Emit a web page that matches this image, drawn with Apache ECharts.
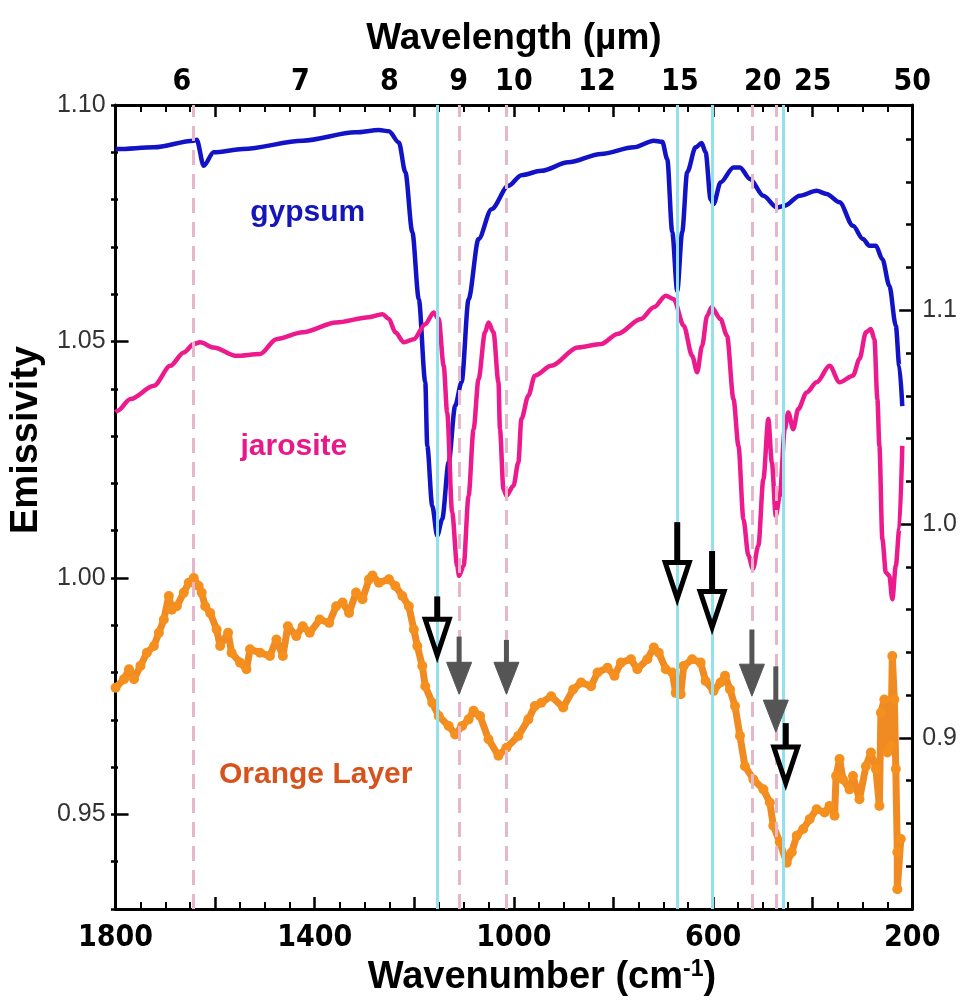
<!DOCTYPE html>
<html><head><meta charset="utf-8">
<script src="https://cdn.jsdelivr.net/npm/echarts@6/dist/echarts.min.js"></script>
<style>html,body{margin:0;padding:0;background:#fff}#c{width:960px;height:1003px}</style>
</head><body><div id="c"></div>
<script>
// ---------------- DATA ----------------
// Gypsum library spectrum (right emissivity axis): [wavenumber cm-1, emissivity]
const gypsum = [[1800,1.1754],[1796,1.1754],[1723,1.1762],[1643,1.1793],[1637,1.1797],[1623,1.1676],[1603,1.1739],[1544,1.1754],[1424,1.1793],[1318,1.1832],[1271,1.1843],[1251,1.1837],[1231,1.1785],[1218,1.1646],[1204,1.1366],[1191,1.1052],[1178,1.0664],[1174,1.0366],[1164,1.0086],[1154,0.9945],[1144,1.0023],[1131,1.0289],[1118,1.0553],[1105,1.0664],[1091,1.1052],[1071,1.1333],[1045,1.1473],[1011,1.1582],[985,1.1632],[945,1.1652],[891,1.1692],[825,1.1731],[759,1.1762],[719,1.1793],[702,1.1788],[692,1.1707],[682,1.1366],[672,1.1091],[662,1.1366],[652,1.1646],[635,1.1762],[623,1.1782],[615,1.1739],[605,1.1520],[599,1.1497],[585,1.1598],[559,1.1668],[546,1.1668],[526,1.1614],[499,1.1536],[472,1.1481],[456,1.1489],[426,1.1536],[392,1.1559],[372,1.1544],[346,1.1505],[319,1.1395],[299,1.1333],[286,1.1302],[273,1.1302],[260,1.1239],[246,1.1115],[233,1.0928],[226,1.0740],[220,1.0552]];
// Jarosite library spectrum (right emissivity axis)
const jarosite = [[1800,1.0524],[1796,1.0530],[1770,1.0585],[1723,1.0647],[1690,1.0740],[1663,1.0803],[1643,1.0842],[1630,1.0850],[1603,1.0826],[1557,1.0787],[1510,1.0795],[1477,1.0865],[1424,1.0897],[1357,1.0943],[1291,1.0967],[1264,1.0982],[1251,1.0959],[1238,1.0897],[1221,1.0850],[1201,1.0865],[1178,1.0935],[1161,1.0990],[1151,1.0959],[1141,1.0740],[1134,1.0522],[1124,1.0055],[1114,0.9805],[1110,0.9758],[1101,0.9805],[1091,1.0132],[1081,1.0444],[1071,1.0678],[1058,1.0897],[1051,1.0943],[1041,1.0897],[1031,1.0663],[1028,1.0444],[1021,1.0164],[1015,1.0132],[1001,1.0179],[991,1.0289],[985,1.0491],[971,1.0600],[958,1.0694],[925,1.0740],[872,1.0826],[825,1.0842],[792,1.0889],[745,1.0959],[719,1.1014],[695,1.1068],[679,1.1052],[659,1.0928],[642,1.0787],[632,1.0710],[622,1.0834],[612,1.0974],[603,1.1014],[585,1.0959],[572,1.0881],[559,1.0585],[549,1.0366],[539,1.0023],[529,0.9852],[520,0.9790],[509,0.9899],[499,1.0210],[489,1.0491],[482,1.0289],[474,1.0039],[466,1.0132],[456,1.0444],[449,1.0522],[439,1.0444],[429,1.0538],[412,1.0616],[392,1.0663],[366,1.0740],[346,1.0663],[319,1.0694],[306,1.0772],[293,1.0897],[283,1.0912],[276,1.0865],[270,1.0585],[266,1.0366],[260,0.9930],[253,0.9774],[246,0.9758],[240,0.9649],[233,0.9805],[226,0.9977],[220,1.0366]];
// Orange Layer measured spectrum (left emissivity axis)
const orangeLayer = [[1800,0.9768],[1783,0.9786],[1773,0.9807],[1763,0.9786],[1750,0.9814],[1737,0.9842],[1723,0.9856],[1713,0.9884],[1703,0.9912],[1693,0.9962],[1687,0.9933],[1677,0.9940],[1663,0.9969],[1653,0.9990],[1643,1.0000],[1633,0.9983],[1627,0.9969],[1620,0.9940],[1610,0.9926],[1597,0.9891],[1590,0.9856],[1574,0.9884],[1567,0.9842],[1550,0.9821],[1537,0.9807],[1530,0.9849],[1510,0.9842],[1490,0.9835],[1477,0.9870],[1464,0.9835],[1454,0.9898],[1437,0.9877],[1424,0.9898],[1410,0.9884],[1390,0.9912],[1371,0.9905],[1357,0.9940],[1344,0.9948],[1331,0.9926],[1317,0.9969],[1304,0.9955],[1291,0.9997],[1284,1.0005],[1271,0.9990],[1251,0.9997],[1238,0.9983],[1224,0.9962],[1211,0.9940],[1201,0.9891],[1194,0.9856],[1184,0.9814],[1178,0.9771],[1164,0.9736],[1151,0.9708],[1131,0.9687],[1118,0.9669],[1104,0.9687],[1091,0.9701],[1081,0.9719],[1068,0.9708],[1051,0.9659],[1031,0.9624],[1015,0.9641],[991,0.9666],[971,0.9701],[958,0.9729],[945,0.9736],[925,0.9750],[901,0.9726],[881,0.9764],[865,0.9779],[845,0.9771],[832,0.9800],[812,0.9810],[798,0.9793],[785,0.9821],[765,0.9828],[752,0.9807],[732,0.9828],[719,0.9853],[709,0.9842],[695,0.9807],[682,0.9800],[675,0.9757],[665,0.9754],[659,0.9814],[642,0.9828],[625,0.9821],[615,0.9782],[599,0.9761],[585,0.9779],[576,0.9793],[566,0.9764],[556,0.9729],[546,0.9666],[536,0.9602],[519,0.9574],[499,0.9553],[486,0.9525],[479,0.9476],[466,0.9441],[452,0.9398],[442,0.9420],[432,0.9455],[419,0.9469],[406,0.9490],[392,0.9511],[376,0.9504],[366,0.9518],[356,0.9497],[353,0.9581],[346,0.9617],[339,0.9574],[326,0.9553],[319,0.9581],[306,0.9532],[293,0.9602],[283,0.9631],[273,0.9596],[266,0.9518],[263,0.9715],[256,0.9743],[250,0.9631],[243,0.9645],[240,0.9835],[236,0.9743],[233,0.9596],[230,0.9420],[230,0.9342],[223,0.9448]];
// Reference band positions (cm-1)
const pinkBands = [1643, 1110, 1015, 522, 474];
const cyanBands = [1154, 672, 602, 459];
// Arrows: [wavenumber, start emissivity, tip emissivity] (left axis)
const blackArrows = [[1154,0.9961,0.9828],[672,1.0118,0.9948],[602,1.0057,0.9887],[454,0.9693,0.9558]];
const grayArrows = [[1110,0.9876,0.9754],[1015,0.9869,0.9754],[522,0.9891,0.9750],[474,0.9813,0.9674]];
// Tick labels
const wavelengthTicks = [6, 7, 8, 9, 10, 12, 15, 20, 25, 50];
const leftTicks = [0.95, 1.00, 1.05, 1.10];
const rightTicks = [0.9, 1.0, 1.1];
// Curve labels and their anchor (wavenumber, left-axis emissivity)
const curveNames = ['gypsum', 'jarosite', 'Orange Layer'];
const curveNameAt = [[1414, 1.0772], [1442, 1.0278], [1398, 0.9583]];

// ---------------- CHART ----------------
const chart = echarts.init(document.getElementById('c'), null, {renderer: 'canvas'});
const BOLD_NUM = "'Liberation Sans Narrow','Arial Narrow','DejaVu Sans Condensed','Liberation Sans',sans-serif";
const SANS = "'Liberation Sans',Arial,Helvetica,sans-serif";
const nameColors = ['#1616b8', '#e8188a', '#d8531c'];
const gridRect = {left: 111, right: 47, top: 105, bottom: 94};
const axisLineStyle = {color: '#000', width: 3};

function arrowRenderer(kind) {
  return function (params, api) {
    const top = api.coord([api.value(0), api.value(1)]);
    const tip = api.coord([api.value(0), api.value(2)]);
    if (kind === 'black') {
      const headLen = 36, hw = 12, inset = 4;
      const tipY = tip[1] - inset, base = tipY - headLen;
      return {type: 'group', children: [
        {type: 'line', shape: {x1: top[0], y1: top[1], x2: top[0], y2: base}, style: {stroke: '#000', lineWidth: 6}},
        {type: 'polygon', shape: {points: [[tip[0] - hw, base], [tip[0] + hw, base], [tip[0], tipY]]},
         style: {fill: 'rgba(255,255,255,0)', stroke: '#000', lineWidth: 5, lineJoin: 'miter'}}
      ]};
    }
    const headLen = 32, hw = 12.5;
    const base = tip[1] - headLen;
    return {type: 'group', children: [
      {type: 'line', shape: {x1: top[0], y1: top[1], x2: top[0], y2: base + 1}, style: {stroke: '#555', lineWidth: 5}},
      {type: 'polygon', shape: {points: [[tip[0] - hw, base], [tip[0] + hw, base], [tip[0], tip[1]]]},
       style: {fill: '#555', stroke: '#555', lineWidth: 1}}
    ]};
  };
}

function nameRenderer(params, api) {
  const p = api.coord([api.value(0), api.value(1)]);
  return {type: 'text', x: p[0], y: p[1], silent: true,
    style: {text: curveNames[params.dataIndex], fill: nameColors[params.dataIndex],
      font: "bold 30px " + SANS, align: 'center', verticalAlign: 'middle'}};
}

const option = {
  backgroundColor: '#fff',
  animation: false,
  grid: [Object.assign({}, gridRect), Object.assign({}, gridRect)],
  xAxis: [
    { // bottom wavenumber axis
      type: 'value', gridIndex: 0, position: 'bottom', min: 200, max: 1800, interval: 200, inverse: true,
      axisLine: {lineStyle: axisLineStyle},
      axisTick: {inside: true, length: 12, lineStyle: {color: '#000', width: 2.5}},
      minorTick: {show: true, splitNumber: 4, length: 7, lineStyle: {color: '#000', width: 2}},
      splitLine: {show: false}, minorSplitLine: {show: false},
      axisLabel: {margin: 14, color: '#000', fontSize: 30, fontWeight: 'bold', fontFamily: BOLD_NUM,
        formatter: v => ((v - 200) % 400 === 0 ? String(v) : '')},
      name: 'Wavenumber (cm{sup|-1})', nameLocation: 'middle', nameGap: 44,
      nameTextStyle: {fontSize: 38, fontWeight: 'bold', color: '#000', fontFamily: SANS, padding: [0, 0, 0, 56],
        rich: {sup: {fontSize: 23, fontWeight: 'bold', color: '#000', fontFamily: SANS, verticalAlign: 'top', padding: [0, 0, 16, 0]}}}
    },
    { // top wavelength axis
      type: 'value', gridIndex: 0, position: 'top', min: 200, max: 1800, interval: 200, inverse: true,
      axisLine: {lineStyle: axisLineStyle},
      axisTick: {inside: true, length: 12, lineStyle: {color: '#000', width: 2.5}},
      minorTick: {show: true, splitNumber: 4, length: 7, lineStyle: {color: '#000', width: 2}},
      splitLine: {show: false}, minorSplitLine: {show: false},
      axisLabel: {margin: 8, color: '#000', fontSize: 30, fontWeight: 'bold', fontFamily: BOLD_NUM,
        customValues: wavelengthTicks.map(l => 10000 / l),
        formatter: v => String(Math.round(10000 / v))},
      name: 'Wavelength (µm)', nameLocation: 'middle', nameGap: 48,
      nameTextStyle: {fontSize: 37, fontWeight: 'bold', color: '#000', fontFamily: SANS}
    },
    { // helper axis for the minor-tick grid
      type: 'value', gridIndex: 1, min: 200, max: 1800, inverse: true, show: false
    }
  ],
  yAxis: [
    { // left emissivity (labels + long ticks)
      type: 'value', gridIndex: 0, position: 'left', min: 0.93, max: 1.10,
      axisLine: {lineStyle: axisLineStyle},
      axisTick: {inside: true, length: 13, customValues: leftTicks, lineStyle: {color: '#000', width: 2.5}},
      axisLabel: {margin: 10, color: '#333', fontSize: 25, fontFamily: SANS, customValues: leftTicks,
        formatter: v => v.toFixed(2)},
      splitLine: {show: false},
      name: 'Emissivity', nameLocation: 'middle', nameGap: 60, nameRotate: 90,
      nameTextStyle: {fontSize: 38, fontWeight: 'bold', color: '#000', fontFamily: SANS, padding: [0, 0, 0, 134]}
    },
    { // right emissivity (labels + long ticks)
      type: 'value', gridIndex: 0, position: 'right', min: 0.82, max: 1.196,
      axisLine: {lineStyle: axisLineStyle},
      axisTick: {inside: true, length: 13, customValues: rightTicks, lineStyle: {color: '#000', width: 2.5}},
      axisLabel: {margin: 10, color: '#333', fontSize: 25, fontFamily: SANS, customValues: rightTicks,
        formatter: v => v.toFixed(1)},
      splitLine: {show: false}
    },
    { // left minor ticks
      type: 'value', gridIndex: 1, position: 'left', min: 0.93, max: 1.10, interval: 0.01,
      axisLine: {show: false}, axisLabel: {show: false}, splitLine: {show: false},
      axisTick: {inside: true, length: 7, lineStyle: {color: '#000', width: 2.5}}
    },
    { // right minor ticks
      type: 'value', gridIndex: 1, position: 'right', min: 0.82, max: 1.196, interval: 0.02,
      axisLine: {show: false}, axisLabel: {show: false}, splitLine: {show: false},
      axisTick: {inside: true, length: 7, lineStyle: {color: '#000', width: 2.5}}
    }
  ],
  series: [
    { // band guide lines
      type: 'line', xAxisIndex: 0, yAxisIndex: 0, data: [], silent: true, z: 1,
      markLine: {silent: true, symbol: ['none', 'none'], label: {show: false}, animation: false,
        lineStyle: {color: '#e6b6cb', width: 3, type: [15, 9]},
        data: pinkBands.map(v => ({xAxis: v}))}
    },
    {
      type: 'line', xAxisIndex: 0, yAxisIndex: 0, data: [], silent: true, z: 1,
      markLine: {silent: true, symbol: ['none', 'none'], label: {show: false}, animation: false,
        lineStyle: {color: '#92e1ec', width: 3, type: 'solid'},
        data: cyanBands.map(v => ({xAxis: v}))}
    },
    {
      name: 'gypsum', type: 'line', xAxisIndex: 0, yAxisIndex: 1, data: gypsum, showSymbol: false, symbol: 'none',
      smooth: 0.3, smoothMonotone: 'x',
      lineStyle: {color: '#1212c6', width: 4.5}, z: 3
    },
    {
      name: 'jarosite', type: 'line', xAxisIndex: 0, yAxisIndex: 1, data: jarosite, showSymbol: false, symbol: 'none',
      smooth: 0.3, smoothMonotone: 'x',
      lineStyle: {color: '#ec1a8c', width: 4.5}, z: 3
    },
    {
      name: 'Orange Layer', type: 'line', xAxisIndex: 0, yAxisIndex: 0, data: orangeLayer,
      symbol: 'circle', symbolSize: 10, showSymbol: true,
      itemStyle: {color: '#f5901f', opacity: 1}, lineStyle: {color: '#f08a22', width: 7}, z: 3
    },
    {
      type: 'custom', xAxisIndex: 0, yAxisIndex: 0, data: grayArrows, renderItem: arrowRenderer('gray'),
      encode: {x: 0, y: [1, 2]}, silent: true, z: 5
    },
    {
      type: 'custom', xAxisIndex: 0, yAxisIndex: 0, data: blackArrows, renderItem: arrowRenderer('black'),
      encode: {x: 0, y: [1, 2]}, silent: true, z: 5
    },
    {
      type: 'custom', xAxisIndex: 0, yAxisIndex: 0, data: curveNameAt, renderItem: nameRenderer,
      encode: {x: 0, y: 1}, silent: true, z: 6
    }
  ]
};
chart.setOption(option);
</script>
</body></html>
